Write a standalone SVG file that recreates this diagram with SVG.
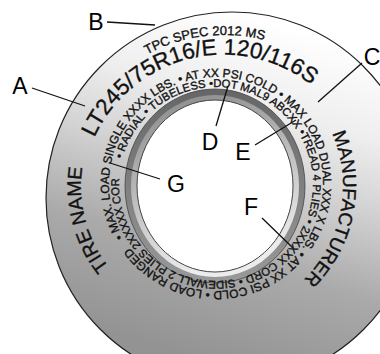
<svg xmlns="http://www.w3.org/2000/svg" width="380" height="354" viewBox="0 0 380 354">
<style>
.t{font-family:"Liberation Sans",Arial,sans-serif;fill:#111;stroke:#111;stroke-width:0.35}
.lbl{font-family:"Liberation Sans",Arial,sans-serif;font-size:23px;fill:#000;text-anchor:middle}
.ld{stroke:#111;stroke-width:1.3;fill:none}
</style>
<defs>
<linearGradient id="side" gradientUnits="userSpaceOnUse" x1="265" y1="20" x2="170" y2="350">
<stop offset="0" stop-color="#ffffff"/>
<stop offset="0.25" stop-color="#eeeeee"/>
<stop offset="0.45" stop-color="#d2d2d2"/>
<stop offset="0.7" stop-color="#aaaaaa"/>
<stop offset="1" stop-color="#939393"/>
</linearGradient>
<linearGradient id="rimO" x1="0" y1="0" x2="0" y2="1">
<stop offset="0" stop-color="#666666"/>
<stop offset="1" stop-color="#999999"/>
</linearGradient>
<linearGradient id="rimI" x1="0" y1="0" x2="0.3" y2="1">
<stop offset="0" stop-color="#858585"/>
<stop offset="0.6" stop-color="#c4c4c4"/>
<stop offset="1" stop-color="#ececec"/>
</linearGradient>
<path id="pBig" d="M93.2,253 A142,142 0 1 1 365.2,187.1"/>
<path id="pTpc" d="M69.1,244.4 A162,162 0 1 1 385.8,205.5"/>
<path id="pTire" d="M267.4,304.7 A131,131 0 1 1 200.6,55.5"/>
<path id="pMan" d="M214.3,55 A131,131 0 1 1 165.1,308.3"/>
<path id="pR3" d="M123.3,237.5 A107,107 0 1 1 308.7,130.5 A107,107 0 1 1 123.3,237.5"/>
<path id="pR4" d="M122.3,158.9 A97,97 0 1 1 309.7,209.1 A97,97 0 1 1 122.3,158.9"/>
</defs>

<g id="tire">
<circle cx="232" cy="198" r="186" fill="url(#side)" stroke="#222" stroke-width="1.2"/>
<ellipse cx="215" cy="186" rx="90" ry="97" fill="url(#rimO)" stroke="#444" stroke-width="0.8"/>
<ellipse cx="215" cy="186" rx="84" ry="91" fill="url(#rimI)"/>
<ellipse cx="215" cy="186" rx="78" ry="86" fill="#ffffff" stroke="#444" stroke-width="1"/>
</g>

<g id="sidewall-text">
<text class="t" font-size="13"><textPath href="#pTpc" startOffset="50%" text-anchor="middle">TPC SPEC 2012 MS</textPath></text>
<text class="t" font-size="22.5"><textPath href="#pBig" startOffset="50%" text-anchor="middle">LT245/75R16/E 120/116S</textPath></text>
<text class="t" font-size="19.5"><textPath href="#pTire" startOffset="50%" text-anchor="middle">TIRE NAME</textPath></text>
<text class="t" font-size="19"><textPath href="#pMan" startOffset="50%" text-anchor="middle">MANUFACTURER</textPath></text>
<text class="t" font-size="11.9"><textPath href="#pR3">• MAX. LOAD SINGLE XXXX LBS. • AT XX PSI COLD • MAX LOAD DUAL XXX X LBS. • AT XX PSI COLD • LOAD RANGED</textPath></text>
<text class="t" font-size="11.3"><textPath href="#pR4">• RADIAL • TUBELESS •DOT MAL9 ABCXX •TREAD 4 PLIES • 2XXXXX CORD • SIDEWALL 2 PLIES 2XXXXX COR</textPath></text>
</g>

<g id="connectors">
<line class="ld" x1="32" y1="88" x2="85" y2="106"/>
<line class="ld" x1="107" y1="22" x2="155" y2="25"/>
<line class="ld" x1="362" y1="63" x2="318" y2="102"/>
<line class="ld" x1="228" y1="86" x2="216" y2="126"/>
<line class="ld" x1="255" y1="145" x2="296" y2="120"/>
<line class="ld" x1="262" y1="218" x2="293" y2="248"/>
<line class="ld" x1="160" y1="179" x2="110" y2="163"/>
</g>

<g id="label-A"><text class="lbl" x="20" y="94">A</text></g>
<g id="label-B"><text class="lbl" x="96" y="30">B</text></g>
<g id="label-C"><text class="lbl" x="372" y="65">C</text></g>
<g id="label-D"><text class="lbl" x="210" y="150">D</text></g>
<g id="label-E"><text class="lbl" x="243" y="160">E</text></g>
<g id="label-F"><text class="lbl" x="251" y="215">F</text></g>
<g id="label-G"><text class="lbl" x="176" y="192">G</text></g>
</svg>
